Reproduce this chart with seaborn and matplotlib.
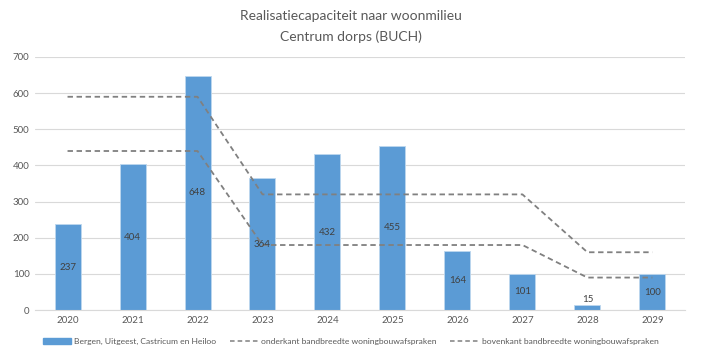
import numpy as np
import pandas as pd
import matplotlib
matplotlib.use("Agg")
import matplotlib.pyplot as plt
import seaborn as sns
from matplotlib.patches import Patch
from matplotlib.lines import Line2D

years = ["2020", "2021", "2022", "2023", "2024", "2025", "2026", "2027", "2028", "2029"]
capacity = [237, 404, 648, 364, 432, 455, 164, 101, 15, 100]
lower_band = [440, 440, 440, 180, 180, 180, 180, 180, 90, 90]
upper_band = [590, 590, 590, 320, 320, 320, 320, 320, 160, 160]
bar_label = "Bergen, Uitgeest, Castricum en Heiloo"
lower_label = "onderkant bandbreedte woningbouwafspraken"
upper_label = "bovenkant bandbreedte woningbouwafspraken"

sns.set_style("white")
plt.rcParams['font.family'] = ['Lato', 'DejaVu Sans']

fig = plt.figure(figsize=(7.01, 3.54), dpi=100)
ax = fig.add_axes([0.05, 0.124, 0.927, 0.715])

bar_color = "#5B9BD5"
line_color = "#808080"
text_color = "#595959"

df = pd.DataFrame({"year": years, "capacity": capacity})
sns.barplot(data=df, x="year", y="capacity", color=bar_color, width=0.4,
            saturation=1, ax=ax, edgecolor="#BDD7EE", linewidth=0.6, zorder=2)

pos = np.arange(len(years))
sns.lineplot(x=pos, y=lower_band, ax=ax, color=line_color, linewidth=1.3,
             linestyle=(0, (3, 2)), zorder=3)
sns.lineplot(x=pos, y=upper_band, ax=ax, color=line_color, linewidth=1.3,
             linestyle=(0, (3, 2)), zorder=3)

for p, v in zip(pos, capacity):
    ax.text(p, max(v / 2, 28), str(v), ha="center", va="center", fontsize=7,
            color="#404040", zorder=4)

ax.set_ylim(0, 700)
ax.set_xlim(-0.5, len(years) - 0.5)
ax.set_yticks(range(0, 701, 100))
ax.yaxis.grid(True, color="#D9D9D9", linewidth=0.8, zorder=0)
ax.set_axisbelow(True)
for s in ["top", "right", "left"]:
    ax.spines[s].set_visible(False)
ax.spines["bottom"].set_color("#D9D9D9")
ax.tick_params(axis="both", length=0, labelsize=7, colors=text_color, pad=4)
ax.set_xlabel("")
ax.set_ylabel("")

fig.text(0.5, 0.955, "Realisatiecapaciteit naar woonmilieu", ha="center", va="center",
         fontsize=10, color=text_color)
fig.text(0.5, 0.895, "Centrum dorps (BUCH)", ha="center", va="center",
         fontsize=10, color=text_color)

handles = [Patch(facecolor=bar_color, edgecolor=bar_color),
           Line2D([0], [0], color=line_color, linestyle=(0, (3, 2)), linewidth=1.1),
           Line2D([0], [0], color=line_color, linestyle=(0, (3, 2)), linewidth=1.1)]
fig.legend(handles, [bar_label, lower_label, upper_label], loc="center",
           bbox_to_anchor=(0.5, 0.035), ncol=3, frameon=False, fontsize=6.1,
           handlelength=3.3, handleheight=0.6, columnspacing=1.6, handletextpad=0.4,
           labelcolor=text_color)

fig.savefig("out.png", dpi=100)
